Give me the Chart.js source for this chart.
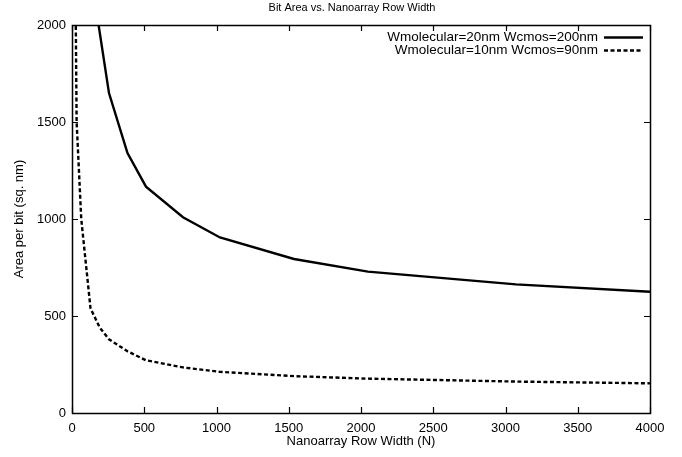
<!DOCTYPE html>
<html>
<head>
<meta charset="utf-8">
<script src="https://cdn.jsdelivr.net/npm/chart.js@4/dist/chart.umd.min.js"></script>
<style>
html,body{margin:0;padding:0;background:#fff;}
#wrap{width:682px;height:457px;}
</style>
</head>
<body>
<div id="wrap"><canvas id="c" width="682" height="457"></canvas></div>
<script>
// ---- data ----
const chartTitle = "Bit Area vs. Nanoarray Row Width";
const xTitle = "Nanoarray Row Width (N)";
const yTitle = "Area per bit (sq. nm)";
const seriesNames = ["Wmolecular=20nm Wcmos=200nm", "Wmolecular=10nm Wcmos=90nm"];

const nSolid    = [128, 256, 384, 512, 768, 1024, 1536, 2048, 3072, 4096];
const areaSolid = [2273, 1649, 1340, 1167, 1009, 905, 794, 729, 663, 621];

const nDashed    = [16, 32, 64, 128, 192, 256, 384, 512, 768, 1024, 1536, 2048, 3072, 4096];
const areaDashed = [2900, 1500, 1000, 540, 440, 380, 318, 272, 235, 212, 190, 177, 162, 152];

const xMin = 0, xMax = 4000, xStep = 500;
const yMin = 0, yMax = 2000, yStep = 500;

const FONT = "'Liberation Sans', Arial, Helvetica, sans-serif";

function toPts(xs, ys){ return xs.map((x,i)=>({x:x, y:ys[i]})); }

const frame = {
  id: 'frame',
  afterDatasetsDraw(chart){
    const ctx = chart.ctx;
    const a = chart.chartArea;
    const xs = chart.scales.x, ys = chart.scales.y;
    const TL = 6;
    ctx.save();
    ctx.strokeStyle = '#000';
    ctx.lineWidth = 1.2;
    ctx.beginPath();
    xs.ticks.forEach(t=>{
      const p = Math.round(xs.getPixelForValue(t.value))+0.5;
      ctx.moveTo(p, a.bottom); ctx.lineTo(p, a.bottom-TL);
      ctx.moveTo(p, a.top); ctx.lineTo(p, a.top+TL);
    });
    ys.ticks.forEach(t=>{
      const p = Math.round(ys.getPixelForValue(t.value))+0.5;
      ctx.moveTo(a.left, p); ctx.lineTo(a.left+TL, p);
      ctx.moveTo(a.right, p); ctx.lineTo(a.right-TL, p);
    });
    ctx.stroke();
    ctx.lineWidth = 1.5;
    ctx.strokeRect(Math.round(a.left)+0.5, Math.round(a.top)+0.5, Math.round(a.right-a.left), Math.round(a.bottom-a.top));
    // title
    ctx.fillStyle = '#000';
    ctx.font = '11px ' + FONT;
    ctx.textAlign = 'center';
    ctx.textBaseline = 'middle';
    ctx.fillText(chartTitle, 352, 8);
    // legend (gnuplot style: text then sample line)
    ctx.font = '13.5px ' + FONT;
    ctx.textAlign = 'right';
    ctx.textBaseline = 'middle';
    chart.data.datasets.forEach((ds,i)=>{
      const y = a.top + 12 + i*13;
      ctx.fillText(ds.label, a.right - 52, y);
      ctx.beginPath();
      ctx.lineWidth = ds.borderWidth;
      ctx.setLineDash(ds.borderDash || []);
      ctx.moveTo(a.right - 46, y+0.5);
      ctx.lineTo(a.right - 7, y+0.5);
      ctx.stroke();
      ctx.setLineDash([]);
    });
    ctx.restore();
  }
};

const plain = v => String(v);

new Chart(document.getElementById('c'), {
  type: 'line',
  data: {
    datasets: [
      { label: seriesNames[0], data: toPts(nSolid, areaSolid), borderColor:'#000', borderWidth:2.4, pointRadius:0, tension:0, fill:false },
      { label: seriesNames[1], data: toPts(nDashed, areaDashed), borderColor:'#000', borderWidth:2.4, borderDash:[4,2.5], pointRadius:0, tension:0, fill:false }
    ]
  },
  options: {
    responsive:false,
    animation:false,
    layout:{ padding:{ left:0, right:32, top:25, bottom:0 } },
    plugins:{
      legend:{ display:false },
      tooltip:{ enabled:false },
      title:{ display:false }
    },
    scales:{
      x:{
        type:'linear', min:xMin, max:xMax,
        ticks:{ stepSize:xStep, color:'#000', font:{ family:FONT, size:13 }, padding:8, maxRotation:0, callback:plain },
        grid:{ display:false, drawTicks:false },
        border:{ display:false },
        title:{ display:true, text:xTitle, color:'#000', font:{ family:FONT, size:13 }, padding:{ top:0, bottom:8 } },
        afterFit(s){ s.height = 44; }
      },
      y:{
        type:'linear', min:yMin, max:yMax,
        ticks:{ stepSize:yStep, color:'#000', font:{ family:FONT, size:13 }, padding:6, callback:plain },
        grid:{ display:false, drawTicks:false },
        border:{ display:false },
        title:{ display:true, text:yTitle, color:'#000', font:{ family:FONT, size:13 }, padding:{ top:12, bottom:0 } },
        afterFit(s){ s.width = 72; }
      }
    }
  },
  plugins:[frame]
});
</script>
</body>
</html>
